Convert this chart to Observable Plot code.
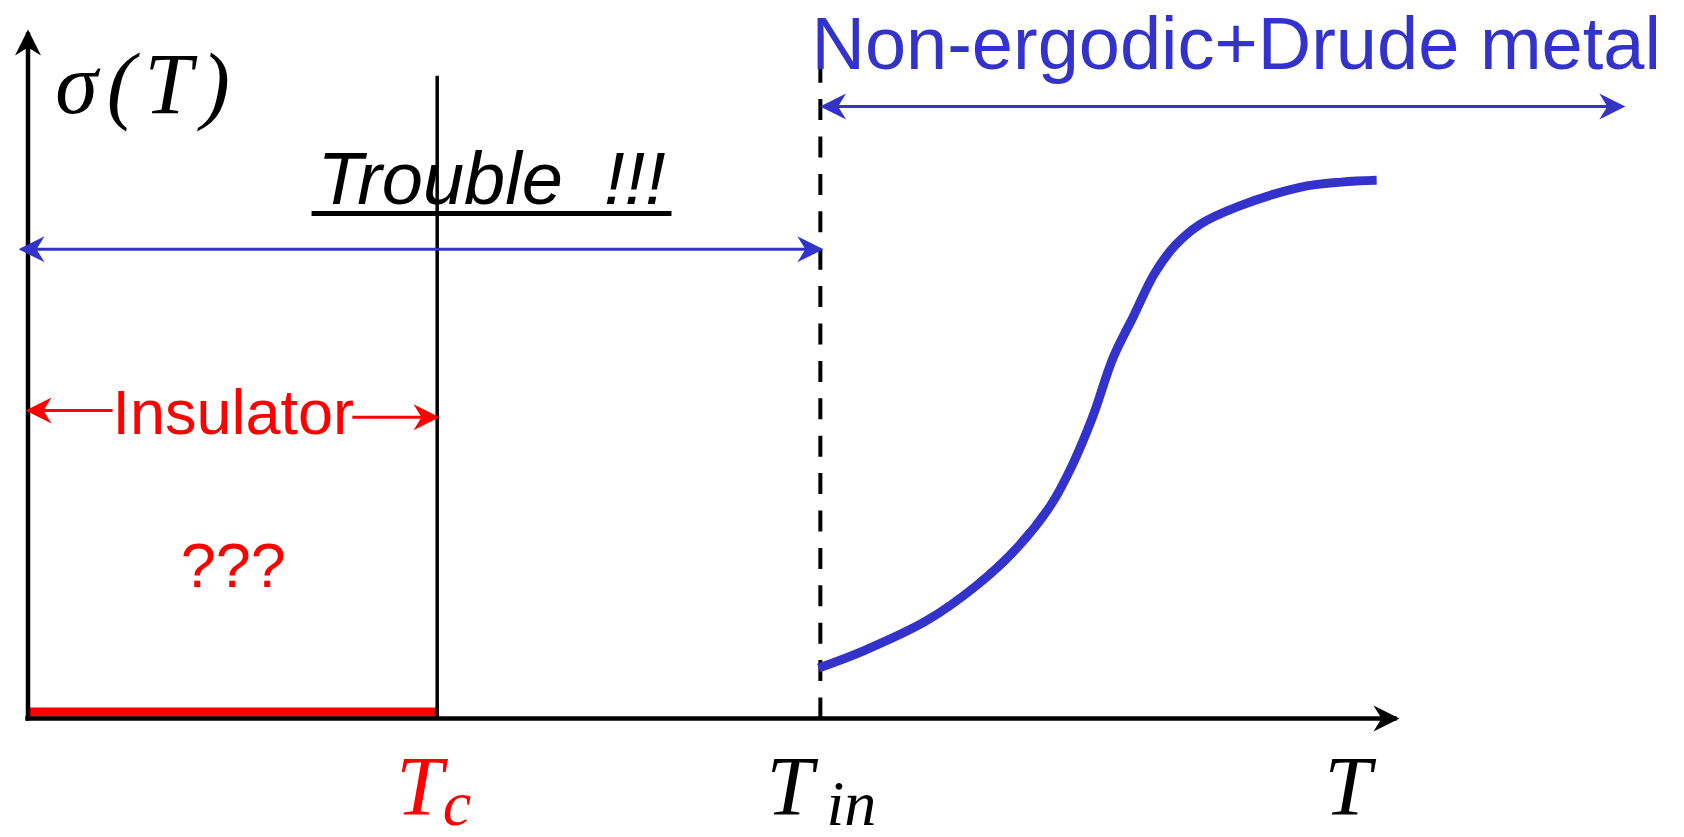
<!DOCTYPE html>
<html><head><meta charset="utf-8">
<script src="https://cdn.jsdelivr.net/npm/d3@7"></script>
<script src="https://cdn.jsdelivr.net/npm/@observablehq/plot@0.6"></script>
<style>
html,body{margin:0;padding:0;background:#fff;}
svg text{white-space:pre;}
</style></head><body><div id="chart"></div>
<script>
// ---- data (arbitrary units: T along the horizontal axis, sigma vertical) ----
const T_axisEnd = 100;
const sigma_axisEnd = 100;
const T_c = 29.9;
const T_in = 57.9;
const T_cLineTop = 93.7;
const T_inLineTop = 103.5;
const insulatorSigma = 0.95;

// sigma(T) for T > T_in
const curveT =     [57.77, 61.10, 65.66, 69.30, 72.33, 74.75, 76.27, 77.79, 79.30, 80.81, 82.33, 83.84, 85.66, 88.40, 92.94, 95.97, 98.55];
const curveSigma = [7.36,  9.91,  14.26, 19.37, 25.00, 31.14, 36.76, 43.92, 52.62, 58.76, 64.90, 69.00, 72.06, 74.62, 77.43, 78.19, 78.45];

// region ranges (double-headed arrows)
const rangeNames = ["Trouble", "Non-ergodic+Drude metal"];
const rangeFrom  = [-0.47, 58.1];
const rangeTo    = [T_in, 116.5];
const rangeLevel = [68.4, 89.2];

// insulator half-arrows
const insFrom  = [6.18, 23.7];
const insTo    = [0.04, 29.85];
const insLevel = [44.9, 43.9];

// underline of "Trouble !!!"
const underlineFrom = 20.72, underlineTo = 47.02, underlineLevel = 73.6;

// text labels
const sigmaLabel = "σ(T)";
const troubleLabel = "Trouble  !!!";
const metalLabel = "Non-ergodic+Drude metal";
const insulatorLabel = "Insulator";
const unknownLabel = "???";
const tickMain = ["T", "T", "T"];
const tickMainT = [26.9, 53.96, 94.74];
const tickMainColor = ["red", "black", "black"];
const tickSub = ["c", "in"];
const tickSubT = [30.3, 58.35];
const tickSubColor = ["red", "black"];

// ---- build tables ----
const curve = curveT.map((t, i) => ({T: t, sigma: curveSigma[i]}));
const ranges = rangeNames.map((n, i) => ({name: n, x1: rangeFrom[i], x2: rangeTo[i], y: rangeLevel[i]}));
const ins = insFrom.map((f, i) => ({x1: f, x2: insTo[i], y: insLevel[i]}));
const mains = tickMain.map((t, i) => ({t, x: tickMainT[i], c: tickMainColor[i]}));
const subs = tickSub.map((t, i) => ({t, x: tickSubT[i], c: tickSubColor[i]}));

const BLUE = "#3333cc";
const serif = "Liberation Serif, Times New Roman, serif";
const sans = "Liberation Sans, Arial, sans-serif";

const svg = Plot.plot({
  width: 1684, height: 837,
  margin: 0,
  x: {domain: [0, T_axisEnd], range: [27.5, 1396], axis: null},
  y: {domain: [0, sigma_axisEnd], range: [718, 32], axis: null},
  style: {background: "white", overflow: "visible"},
  marks: [
    // red insulator line at sigma ~ 0
    Plot.link([{}], {x1: 0, x2: T_c, y1: insulatorSigma, y2: insulatorSigma, stroke: "#ff0000", strokeWidth: 9}),
    // axes
    Plot.link([{}], {x1: 0, x2: 0, y1: -0.3, y2: sigma_axisEnd, stroke: "black", strokeWidth: 4.5, markerEnd: "arrow"}),
    Plot.link([{}], {x1: -0.2, x2: T_axisEnd, y1: 0, y2: 0, stroke: "black", strokeWidth: 4.5, markerEnd: "arrow"}),
    // T_c line
    Plot.link([{}], {x1: T_c, x2: T_c, y1: 0, y2: T_cLineTop, stroke: "black", strokeWidth: 3.5}),
    // T_in dashed line
    Plot.link([{}], {x1: T_in, x2: T_in, y1: 0, y2: T_inLineTop, stroke: "black", strokeWidth: 4, strokeDasharray: "21,16.4"}),
    // underline
    Plot.link([{}], {x1: underlineFrom, x2: underlineTo, y1: underlineLevel, y2: underlineLevel, stroke: "black", strokeWidth: 5}),
    // range arrows
    Plot.link(ranges, {x1: "x1", x2: "x2", y1: "y", y2: "y", stroke: BLUE, strokeWidth: 3, markerStart: "arrow", markerEnd: "arrow"}),
    // insulator arrows
    Plot.link(ins, {x1: "x1", x2: "x2", y1: "y", y2: "y", stroke: "#ff0000", strokeWidth: 3, markerEnd: "arrow"}),
    // sigma(T) curve
    Plot.line(curve, {x: "T", y: "sigma", stroke: BLUE, strokeWidth: 9, curve: "catmull-rom", strokeLinecap: "butt"}),
    // texts
    Plot.text([sigmaLabel], {x: 2.0, y: 88.3, text: d => d, fontFamily: serif, fontStyle: "italic", fontSize: 86, textAnchor: "start", lineAnchor: "bottom", fill: "black"}),
    Plot.text([troubleLabel], {x: 21.15, y: 75.07, text: d => d, fontFamily: sans, fontStyle: "italic", fontSize: 74, textAnchor: "start", lineAnchor: "bottom", fill: "black"}),
    Plot.text([metalLabel], {x: 57.25, y: 94.75, text: d => d, fontFamily: sans, fontSize: 74, textAnchor: "start", lineAnchor: "bottom", fill: BLUE}),
    Plot.text([insulatorLabel], {x: 15.0, y: 41.5, text: d => d, fontFamily: sans, fontSize: 63, textAnchor: "middle", lineAnchor: "bottom", fill: "#ff0000"}),
    Plot.text([unknownLabel], {x: 15.0, y: 19.1, text: d => d, fontFamily: sans, fontSize: 63, textAnchor: "middle", lineAnchor: "bottom", fill: "#ff0000"}),
    Plot.text(mains, {x: "x", y: -14.0, text: "t", fill: "c", fontFamily: serif, fontStyle: "italic", fontSize: 84, textAnchor: "start", lineAnchor: "bottom"}),
    Plot.text(subs, {x: "x", y: -15.5, text: "t", fill: "c", fontFamily: serif, fontStyle: "italic", fontSize: 64, textAnchor: "start", lineAnchor: "bottom"})
  ]
});

// filled "stealth" arrowheads of constant size, pointing outward at both ends
d3.select(svg).selectAll("marker").each(function () {
  const m = d3.select(this);
  const color = m.attr("stroke") || "black";
  m.attr("viewBox", "-26 -14 30 28")
   .attr("markerWidth", 30).attr("markerHeight", 28)
   .attr("markerUnits", "userSpaceOnUse")
   .attr("orient", "auto-start-reverse")
   .attr("fill", color).attr("stroke", "none");
  m.selectAll("*").remove();
  m.append("path").attr("d", "M3,0L-23,-13L-15,0L-23,13Z");
});
d3.select(svg).selectAll("text").filter(function () { return this.textContent === sigmaLabel; })
  .style("letter-spacing", "9px");

document.getElementById("chart").appendChild(svg);
</script></body></html>
